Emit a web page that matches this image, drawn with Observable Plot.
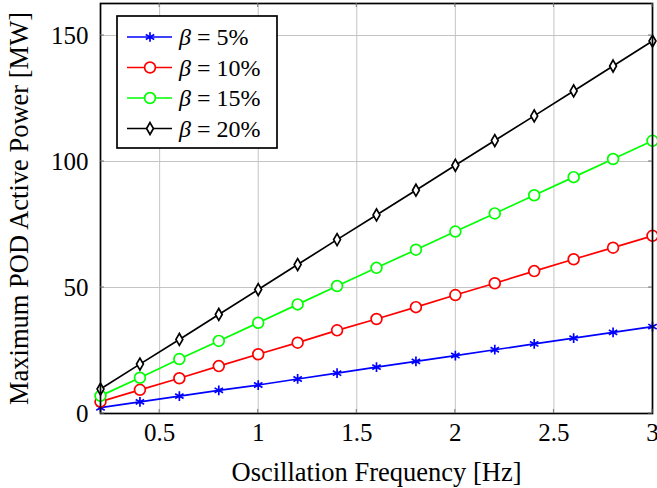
<!DOCTYPE html>
<html>
<head>
<meta charset="utf-8">
<script src="https://cdn.jsdelivr.net/npm/d3@7"></script>
<script src="https://cdn.jsdelivr.net/npm/@observablehq/plot@0.6"></script>
<style>
  html, body { margin: 0; padding: 0; background: white; }
  #chart { position: relative; width: 657px; height: 488px; }
  #chart svg text { font-family: "Liberation Serif", "Times New Roman", serif; }
</style>
</head>
<body>
<div id="chart"></div>
<script>
const freq = [0.2, 0.4, 0.6, 0.8, 1.0, 1.2, 1.4, 1.6, 1.8, 2.0, 2.2, 2.4, 2.6, 2.8, 3.0];
const beta5  = [2.3, 4.6, 6.9, 9.2, 11.3, 13.7, 16.0, 18.4, 20.7, 23.0, 25.3, 27.6, 29.9, 32.2, 34.5];
const beta10 = [4.7, 9.4, 14.0, 18.8, 23.5, 28.1, 33.0, 37.5, 42.2, 47.0, 51.7, 56.5, 61.2, 65.8, 70.5];
const beta15 = [7.0, 14.2, 21.6, 28.8, 36.0, 43.3, 50.6, 57.8, 65.0, 72.2, 79.4, 86.6, 93.8, 101.0, 108.2];
const beta20 = [9.7, 19.6, 29.4, 39.3, 49.2, 59.1, 69.0, 78.8, 88.6, 98.5, 108.3, 118.1, 128.0, 137.9, 147.8];
const seriesNames = ["β = 5%", "β = 10%", "β = 15%", "β = 20%"];
const seriesColors = ["#0000ff", "#ff0000", "#00ff00", "#000000"];
const seriesSymbols = ["asterisk", "circle", "circle", "diamond"];
const seriesR = [4.6, 5.4, 5.4, 3.6];
const seriesValues = [beta5, beta10, beta15, beta20];
const xTicks = [0.5, 1, 1.5, 2, 2.5, 3];
const yTicks = [0, 50, 100, 150];
const xLabel = "Oscillation Frequency [Hz]";
const yLabel = "Maximum POD Active Power [MW]";

const FONT = "Liberation Serif, Times New Roman, serif";

const marks = [
  Plot.gridX(xTicks, {stroke: "#c4c4c4", strokeOpacity: 1, strokeWidth: 1}),
  Plot.gridY(yTicks, {stroke: "#c4c4c4", strokeOpacity: 1, strokeWidth: 1}),
  Plot.axisX({ticks: xTicks, tickSize: 0, tickPadding: 10, fontSize: 25, fontFamily: FONT, tickFormat: d => String(d), label: null}),
  Plot.axisY({ticks: yTicks, tickSize: 0, tickPadding: 12, fontSize: 25, fontFamily: FONT, tickFormat: d => String(d), label: null}),
  Plot.text([xLabel], {text: d => d, frameAnchor: "bottom", textAnchor: "middle", dy: 67, lineAnchor: "bottom", fontSize: 26.5, fontFamily: FONT}),
  Plot.text([yLabel], {text: d => d, frameAnchor: "left", textAnchor: "middle", dx: -73, rotate: -90, lineAnchor: "bottom", fontSize: 26.5, fontFamily: FONT}),
];

seriesValues.forEach((vals, i) => {
  const data = freq.map((f, j) => ({f, v: vals[j]}));
  marks.push(Plot.line(data, {x: "f", y: "v", stroke: seriesColors[i], strokeWidth: 1.7}));
  marks.push(Plot.dot(data, {x: "f", y: "v", symbol: seriesSymbols[i], r: seriesR[i],
    stroke: seriesColors[i], fill: seriesSymbols[i] === "asterisk" ? "none" : "white", strokeWidth: 1.7}));
});
marks.push(Plot.frame({stroke: "black", strokeWidth: 1.7}));

const plot = Plot.plot({
  width: 657, height: 488,
  marginLeft: 100, marginRight: 5, marginTop: 3, marginBottom: 75,
  x: {domain: [0.2, 3]},
  y: {domain: [0, 162.7]},
  style: {fontFamily: FONT, fontSize: "25px", background: "white", color: "black", overflow: "visible"},
  marks
});
document.getElementById("chart").appendChild(plot);

// inward tick marks on all four sides
const svg = d3.select(plot);
const L = 100, R = 652, T = 3, B = 413;
const xS = d3.scaleLinear([0.2, 3], [L, R]);
const yS = d3.scaleLinear([0, 162.7], [B, T]);
const tg = svg.append("g").attr("stroke", "#777").attr("stroke-width", 1);
xTicks.forEach(t => {
  tg.append("line").attr("x1", xS(t)).attr("x2", xS(t)).attr("y1", B).attr("y2", B - 4);
  tg.append("line").attr("x1", xS(t)).attr("x2", xS(t)).attr("y1", T).attr("y2", T + 4);
});
yTicks.forEach(t => {
  tg.append("line").attr("y1", yS(t)).attr("y2", yS(t)).attr("x1", L).attr("x2", L + 4);
  tg.append("line").attr("y1", yS(t)).attr("y2", yS(t)).attr("x1", R).attr("x2", R - 4);
});

// legend
const lg = svg.append("g");
lg.append("rect").attr("x", 117).attr("y", 16).attr("width", 160).attr("height", 132)
  .attr("fill", "white").attr("stroke", "black").attr("stroke-width", 1.7);
const symMap = {asterisk: d3.symbolAsterisk, circle: d3.symbolCircle, diamond: d3.symbolDiamond};
seriesNames.forEach((name, i) => {
  const cy = 37 + i * 30.5;
  lg.append("line").attr("x1", 127).attr("x2", 172).attr("y1", cy).attr("y2", cy)
    .attr("stroke", seriesColors[i]).attr("stroke-width", 1.7);
  const r = seriesR[i];
  lg.append("path").attr("transform", `translate(150,${cy})`)
    .attr("d", d3.symbol(symMap[seriesSymbols[i]], r * r * Math.PI)())
    .attr("fill", seriesSymbols[i] === "asterisk" ? "none" : "white")
    .attr("stroke", seriesColors[i]).attr("stroke-width", 1.7);
  const txt = lg.append("text").attr("x", 179).attr("y", cy).attr("dy", "0.35em")
    .attr("text-anchor", "start")
    .style("font-family", FONT).style("font-size", "24px").attr("fill", "black");
  const parts = name.split(" = ");
  txt.append("tspan").attr("font-style", "italic").text(parts[0]);
  txt.append("tspan").text(" = " + parts[1]);
});
</script>
</body>
</html>
